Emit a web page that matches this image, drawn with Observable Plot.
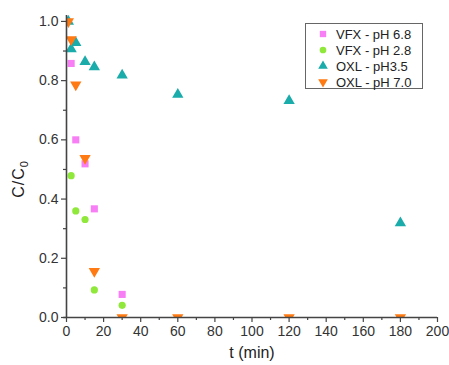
<!DOCTYPE html>
<html>
<head>
<meta charset="utf-8">
<script src="https://cdn.jsdelivr.net/npm/d3@7"></script>
<script src="https://cdn.jsdelivr.net/npm/@observablehq/plot@0.6"></script>
<style>
  html, body { margin: 0; padding: 0; background: #fff; }
  #wrap { position: relative; width: 449px; height: 365px; font-family: "Liberation Sans", Arial, sans-serif; }
  #legend { position: absolute; left: 305px; top: 23px; width: 118px; height: 66px; border: 1px solid #666; background: #fff; box-sizing: border-box; }
  .row { position: absolute; left: 0; height: 16px; display: flex; align-items: center; font-size: 13px; color: #222; }
  .row svg { margin-left: 11px; margin-right: 7px; }
</style>
</head>
<body>
<div id="wrap"><div id="legend"></div></div>
<script>
// Series names
const seriesNames = ["VFX - pH 6.8", "VFX - pH 2.8", "OXL - pH3.5", "OXL - pH 7.0"];
const seriesColors = ["#f77ef4", "#8fe83a", "#1aabab", "#ff7a12"];
const seriesSymbols = ["square", "circle", "triangle", "triangle-down"];

// Data: time (min) and C/C0
const vfx68T = [2.5, 5, 10, 15, 30];
const vfx68 = [0.858, 0.600, 0.519, 0.367, 0.078];
const vfx28T = [2.5, 5, 10, 15, 30];
const vfx28 = [0.479, 0.360, 0.331, 0.093, 0.041];
const oxl35T = [1, 2.5, 5, 10, 15, 30, 60, 120, 180];
const oxl35 = [1.0, 0.907, 0.928, 0.864, 0.846, 0.818, 0.753, 0.732, 0.319];
const oxl70T = [1, 2.5, 5, 10, 15, 30, 60, 120, 180];
const oxl70 = [1.0, 0.939, 0.786, 0.538, 0.156, 0, 0, 0, 0];

// Ticks
const xMajor = [0, 20, 40, 60, 80, 100, 120, 140, 160, 180, 200];
const xMinor = [10, 30, 50, 70, 90, 110, 130, 150, 170, 190];
const yMajor = [0, 0.2, 0.4, 0.6, 0.8, 1.0];
const yMinor = [0.1, 0.3, 0.5, 0.7, 0.9];

const toRows = (T, V) => T.map((t, i) => ({t, v: V[i]}));
const s0 = toRows(vfx68T, vfx68);
const s1 = toRows(vfx28T, vfx28);
const s2 = toRows(oxl35T, oxl35);
const s3 = toRows(oxl70T, oxl70);

const axisColor = "#444";

const chart = Plot.plot({
  width: 449,
  height: 365,
  marginLeft: 66,
  marginRight: 12,
  marginTop: 15,
  marginBottom: 48,
  style: {fontFamily: "'Liberation Sans', Arial, sans-serif", background: "#fff", overflow: "visible"},
  x: {domain: [0, 200]},
  y: {domain: [0, 1.02]},
  marks: [
    Plot.axisX({ticks: xMajor, tickSize: 5, tickPadding: 4, fontSize: 14, stroke: axisColor, fill: "#333", label: null, strokeWidth: 1.2}),
    Plot.axisX({ticks: xMinor, tickSize: 3, text: null, stroke: axisColor, label: null, strokeWidth: 1.2}),
    Plot.axisY({ticks: yMajor, tickSize: 5, tickPadding: 3, fontSize: 14, tickFormat: d => d.toFixed(1), stroke: axisColor, fill: "#333", label: null, strokeWidth: 1.2}),
    Plot.axisY({ticks: yMinor, tickSize: 3, text: null, stroke: axisColor, label: null, strokeWidth: 1.2}),
    Plot.dot(s0, {x: "t", y: "v", symbol: "square", r: 4, fill: seriesColors[0], clip: true}),
    Plot.dot(s1, {x: "t", y: "v", symbol: "circle", r: 3.6, fill: seriesColors[1], clip: true}),
    Plot.dot(s2, {x: "t", y: "v", symbol: "triangle", r: 4.2, fill: seriesColors[2], clip: true}),
    Plot.dot(s3, {x: "t", y: "v", symbol: "triangle", rotate: 180, r: 4.2, fill: seriesColors[3], clip: true}),
    Plot.ruleX([0], {stroke: axisColor, strokeWidth: 1.6}),
    Plot.ruleY([0], {stroke: axisColor, strokeWidth: 1.6, x1: -1.5, x2: 200}),
    Plot.text(["t (min)"], {frameAnchor: "bottom", dy: 40, fontSize: 16, fill: "#222"}),
  ]
});

// y axis label with subscript
const svg = d3.select(chart);
const yl = svg.append("text")
  .attr("transform", "translate(24,179) rotate(-90)")
  .attr("text-anchor", "middle")
  .attr("font-size", 16)
  .attr("fill", "#222")
  .attr("letter-spacing", 1);
yl.append("tspan").text("C/C");
yl.append("tspan").attr("font-size", 11).attr("dy", 4).text("0");

document.getElementById("wrap").prepend(chart);

// Legend
const legend = document.getElementById("legend");
seriesNames.forEach((name, i) => {
  const row = document.createElement("div");
  row.className = "row";
  row.style.top = (2 + i * 16) + "px";
  const sv = d3.create("svg").attr("width", 12).attr("height", 12);
  const sym = {square: d3.symbolSquare, circle: d3.symbolCircle, triangle: d3.symbolTriangle, "triangle-down": d3.symbolTriangle}[seriesSymbols[i]];
  sv.append("path")
    .attr("d", d3.symbol(sym, i === 1 ? 35 : 40)())
    .attr("transform", `translate(6,6)${seriesSymbols[i] === "triangle-down" ? " rotate(180)" : ""}`)
    .attr("fill", seriesColors[i]);
  row.appendChild(sv.node());
  const span = document.createElement("span");
  span.textContent = name;
  row.appendChild(span);
  legend.appendChild(row);
});
</script>
</body>
</html>
